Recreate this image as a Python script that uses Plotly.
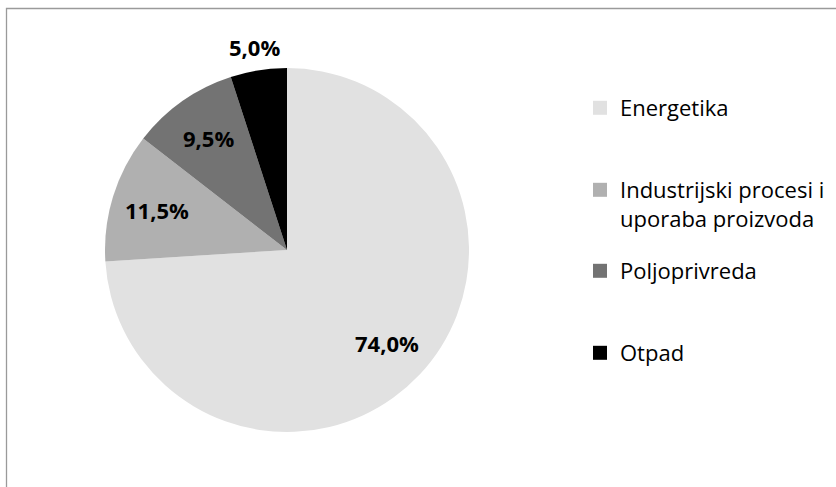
import math
import plotly.graph_objects as go

categories = ["Energetika", "Industrijski procesi i uporaba proizvoda", "Poljoprivreda", "Otpad"]
legend_names = ["Energetika", "Industrijski procesi i<br>uporaba proizvoda", "Poljoprivreda", "Otpad"]
values = [74.0, 11.5, 9.5, 5.0]
colors = ["#e1e1e1", "#b0b0b0", "#737373", "#000000"]

W, H = 836, 487
CX, CY, R = 287, 250, 182
FONT = "Open Sans"

fig = go.Figure()
fig.add_trace(go.Pie(
    labels=categories, values=values, sort=False, direction="clockwise", rotation=0,
    marker=dict(colors=colors, line=dict(width=0)),
    textinfo="none", showlegend=False, hoverinfo="label+percent",
    domain=dict(x=[(CX - R) / W, (CX + R) / W], y=[1 - (CY + R) / H, 1 - (CY - R) / H]),
))

# data labels
total = sum(values)
cum = 0.0
for v in values:
    mid = (cum + v / 2) / total * 2 * math.pi
    cum += v
    f = 0.75 if v / total >= 0.08 else 1.13
    px = CX + R * f * math.sin(mid)
    py = CY - R * f * math.cos(mid)
    fig.add_annotation(x=px / W, y=1 - py / H, xref="paper", yref="paper",
                       xanchor="center", yanchor="middle",
                       text="<b>" + f"{v:.1f}".replace(".", ",") + "%</b>",
                       showarrow=False, font=dict(family=FONT, size=22, color="#000000"))

# legend entries (one legend per entry to reproduce Excel spacing)
tops = [87, 169, 250, 332]
for i, (name, c) in enumerate(zip(legend_names, colors)):
    lid = "legend" if i == 0 else f"legend{i+1}"
    fig.add_trace(go.Scatter(x=[None], y=[None], mode="markers", name=name,
                             marker=dict(symbol="square", size=14, color=c),
                             legend=lid, showlegend=True, hoverinfo="skip"))
    fig.update_layout(**{lid: dict(x=(620 - 40) / W, y=1 - tops[i] / H, xanchor="left", yanchor="top",
                                   font=dict(family=FONT, size=22, color="#000000"),
                                   bgcolor="rgba(0,0,0,0)", valign="top", itemclick=False)})

fig.add_shape(type="rect", xref="paper", yref="paper",
              x0=6.5 / W, x1=1.2, y0=-0.2, y1=1 - 8.5 / H,
              line=dict(color="#9a9a9a", width=1.3), fillcolor="rgba(0,0,0,0)")

fig.update_layout(width=W, height=H, margin=dict(l=0, r=0, t=0, b=0),
                  paper_bgcolor="white", plot_bgcolor="white",
                  xaxis=dict(visible=False), yaxis=dict(visible=False))

fig.write_html("out.html", config={"displayModeBar": False},
               post_script="document.body.style.margin='0';")
